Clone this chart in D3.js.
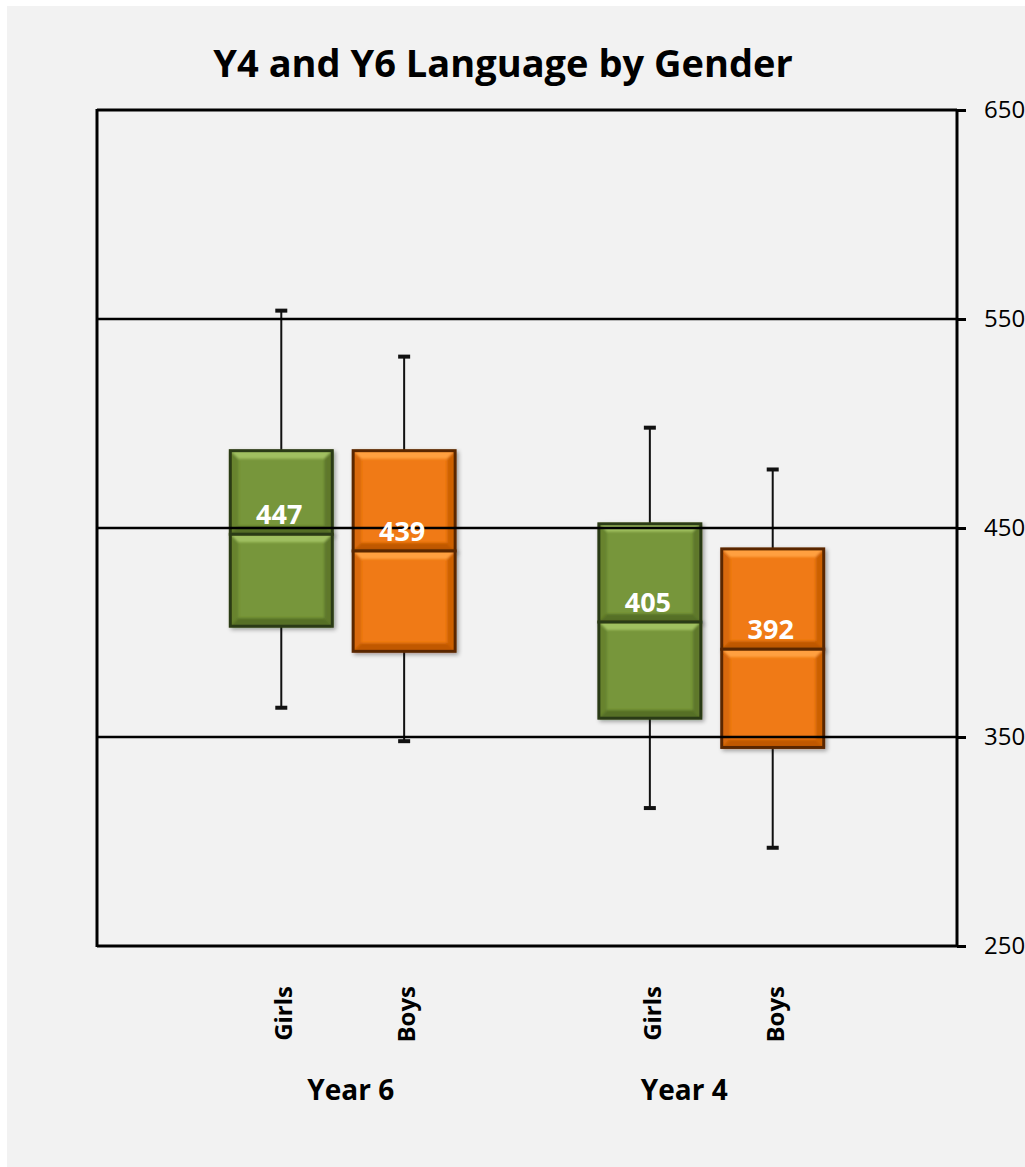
<!DOCTYPE html>
<html>
<head>
<meta charset="utf-8">
<script src="https://cdn.jsdelivr.net/npm/d3@7"></script>
<style>
  html, body { margin: 0; padding: 0; background: #ffffff; }
  svg { display: block; }
  text { font-family: "Open Sans", Lato, sans-serif; }
</style>
</head>
<body>
<svg id="chart" width="1025" height="1167"></svg>
<script>
// Language scores by year group and gender (box-and-whisker summary)
const slots      = ["pad0", "Y6-Girls", "Y6-Boys", "gap", "Y4-Girls", "Y4-Boys", "pad1"];
const boxKeys    = ["Y6-Girls", "Y6-Boys", "Y4-Girls", "Y4-Boys"];
const genders    = ["Girls", "Boys", "Girls", "Boys"];
const years      = ["Year 6", "Year 4"];
const whiskerLow = [364, 348, 316, 297];
const q1Values   = [403, 391, 359, 345];
const medians    = [447, 439, 405, 392];
const q3Values   = [487, 487, 452, 440];
const whiskerHigh= [554, 532, 498, 478];
const yTicks     = [250, 350, 450, 550, 650];
const chartTitle = "Y4 and Y6 Language by Gender";

const svg = d3.select("#chart");
const W = 1025, H = 1167;
const plot = { left: 97, right: 957, top: 110, bottom: 946 };

// panel background
svg.append("rect").attr("x", 7).attr("y", 6).attr("width", W - 7).attr("height", H - 6).attr("fill", "#f2f2f2");

const x = d3.scaleBand().domain(slots).range([plot.left, plot.right]).paddingInner(0).paddingOuter(0);
const y = d3.scaleLinear().domain([250, 650]).range([plot.bottom, plot.top]);
const boxW = x.bandwidth() * 0.83;

const palette = {
  Girls: { base: "#77963a", light: "#a0c060", dark: "#566f26", edge: "#2c3a12" },
  Boys:  { base: "#f07a12", light: "#ffa040", dark: "#c05806", edge: "#5a2800" }
};

const defs = svg.append("defs");
defs.append("filter").attr("id", "soft").append("feGaussianBlur").attr("stdDeviation", 1.2);
const sh = defs.append("filter").attr("id", "shadow").attr("x", "-10%").attr("y", "-10%").attr("width", "130%").attr("height", "130%");
sh.append("feGaussianBlur").attr("in", "SourceAlpha").attr("stdDeviation", 2);
sh.append("feOffset").attr("dx", 2).attr("dy", 2).attr("result", "b");
sh.append("feComponentTransfer").append("feFuncA").attr("type", "linear").attr("slope", 0.35);
const merge = sh.append("feMerge");
merge.append("feMergeNode");
merge.append("feMergeNode").attr("in", "SourceGraphic");

const gridValues = yTicks.filter(t => t > 250 && t < 650);

// right-hand value axis
const yAxis = d3.axisRight(y).tickValues(yTicks).tickSize(9).tickPadding(18);
const gy = svg.append("g").attr("transform", `translate(${plot.right},0)`).call(yAxis);
gy.select(".domain").attr("stroke", "#000").attr("stroke-width", 3).attr("d", `M0,${plot.top}V${plot.bottom}`);
gy.selectAll(".tick line").attr("stroke", "#000").attr("stroke-width", 3);
gy.selectAll(".tick text").attr("font-size", 24).attr("fill", "#000").attr("font-family", "'Open Sans', sans-serif");

// frame: left, top and bottom edges
svg.append("line").attr("x1", plot.left).attr("x2", plot.left).attr("y1", plot.top - 1).attr("y2", plot.bottom + 1)
  .attr("stroke", "#000").attr("stroke-width", 3);
svg.append("line").attr("x1", plot.left).attr("x2", plot.right).attr("y1", plot.top).attr("y2", plot.top)
  .attr("stroke", "#000").attr("stroke-width", 3);
svg.append("line").attr("x1", plot.left).attr("x2", plot.right).attr("y1", plot.bottom).attr("y2", plot.bottom)
  .attr("stroke", "#000").attr("stroke-width", 3);

const rows = boxKeys.map((k, i) => ({
  key: k, gender: genders[i], lo: whiskerLow[i], q1: q1Values[i], med: medians[i], q3: q3Values[i], hi: whiskerHigh[i]
}));

const cx = d => x(d.key) + x.bandwidth() / 2;

// whiskers
const wg = svg.append("g");
rows.forEach(d => {
  wg.append("line").attr("x1", cx(d)).attr("x2", cx(d)).attr("y1", y(d.hi)).attr("y2", y(d.q3))
    .attr("stroke", "#111").attr("stroke-width", 2);
  wg.append("line").attr("x1", cx(d)).attr("x2", cx(d)).attr("y1", y(d.q1)).attr("y2", y(d.lo))
    .attr("stroke", "#111").attr("stroke-width", 2);
  [d.hi, d.lo].forEach(v => {
    wg.append("line").attr("x1", cx(d) - 6).attr("x2", cx(d) + 6).attr("y1", y(v)).attr("y2", y(v))
      .attr("stroke", "#111").attr("stroke-width", 4);
  });
});

// beveled half-box
function bevelBox(g, x0, y0, w, h, c) {
  const b = Math.min(8, h / 4);
  const grp = g.append("g").attr("filter", "url(#shadow)");
  grp.append("rect").attr("x", x0).attr("y", y0).attr("width", w).attr("height", h).attr("fill", c.base);
  const inner = grp.append("g").attr("filter", "url(#soft)");
  inner.append("polygon").attr("points", [[x0, y0], [x0 + w, y0], [x0 + w - b, y0 + b], [x0 + b, y0 + b]].join(" "))
    .attr("fill", c.light);
  inner.append("polygon").attr("points", [[x0, y0 + h], [x0 + w, y0 + h], [x0 + w - b, y0 + h - b], [x0 + b, y0 + h - b]].join(" "))
    .attr("fill", c.dark);
  inner.append("polygon").attr("points", [[x0, y0], [x0 + b, y0 + b], [x0 + b, y0 + h - b], [x0, y0 + h]].join(" "))
    .attr("fill", c.dark).attr("opacity", 0.5);
  inner.append("polygon").attr("points", [[x0 + w, y0], [x0 + w - b, y0 + b], [x0 + w - b, y0 + h - b], [x0 + w, y0 + h]].join(" "))
    .attr("fill", c.dark).attr("opacity", 0.75);
  grp.append("rect").attr("x", x0).attr("y", y0).attr("width", w).attr("height", h)
    .attr("fill", "none").attr("stroke", c.edge).attr("stroke-width", 3);
}

const bg = svg.append("g");
rows.forEach(d => {
  const c = palette[d.gender];
  const x0 = cx(d) - boxW / 2;
  bevelBox(bg, x0, y(d.q3), boxW, y(d.med) - y(d.q3), c);
  bevelBox(bg, x0, y(d.med), boxW, y(d.q1) - y(d.med), c);
});

// horizontal gridlines, drawn across the boxes
svg.append("g").selectAll("line").data(gridValues).join("line")
  .attr("x1", plot.left).attr("x2", plot.right)
  .attr("y1", d => y(d)).attr("y2", d => y(d))
  .attr("stroke", "#000").attr("stroke-width", 2.5);

// median labels
svg.append("g").selectAll("text").data(rows).join("text")
  .attr("x", d => cx(d) - 2).attr("y", d => y(d.med) - 20)
  .attr("dy", "0.36em").attr("text-anchor", "middle")
  .attr("fill", "#fff").attr("font-weight", 700).attr("font-size", 27)
  .text(d => d.med);

// category labels (rotated)
svg.append("g").selectAll("text").data(rows).join("text")
  .attr("transform", d => `translate(${cx(d) + 11},${986}) rotate(-90)`)
  .attr("text-anchor", "end").attr("font-weight", 700).attr("font-size", 24).attr("fill", "#000")
  .text(d => d.gender);

// year group labels
const groupCentres = [
  (cx(rows[0]) + cx(rows[1])) / 2 + 8,
  (cx(rows[2]) + cx(rows[3])) / 2 - 27
];
svg.append("g").selectAll("text").data(years).join("text")
  .attr("x", (d, i) => groupCentres[i]).attr("y", 1100)
  .attr("text-anchor", "middle").attr("font-weight", 700).attr("font-size", 28).attr("fill", "#000")
  .text(d => d);

// title
svg.append("text").attr("x", 503).attr("y", 77).attr("text-anchor", "middle")
  .attr("font-weight", 700).attr("font-size", 38).attr("fill", "#000")
  .text(chartTitle);
</script>
</body>
</html>
